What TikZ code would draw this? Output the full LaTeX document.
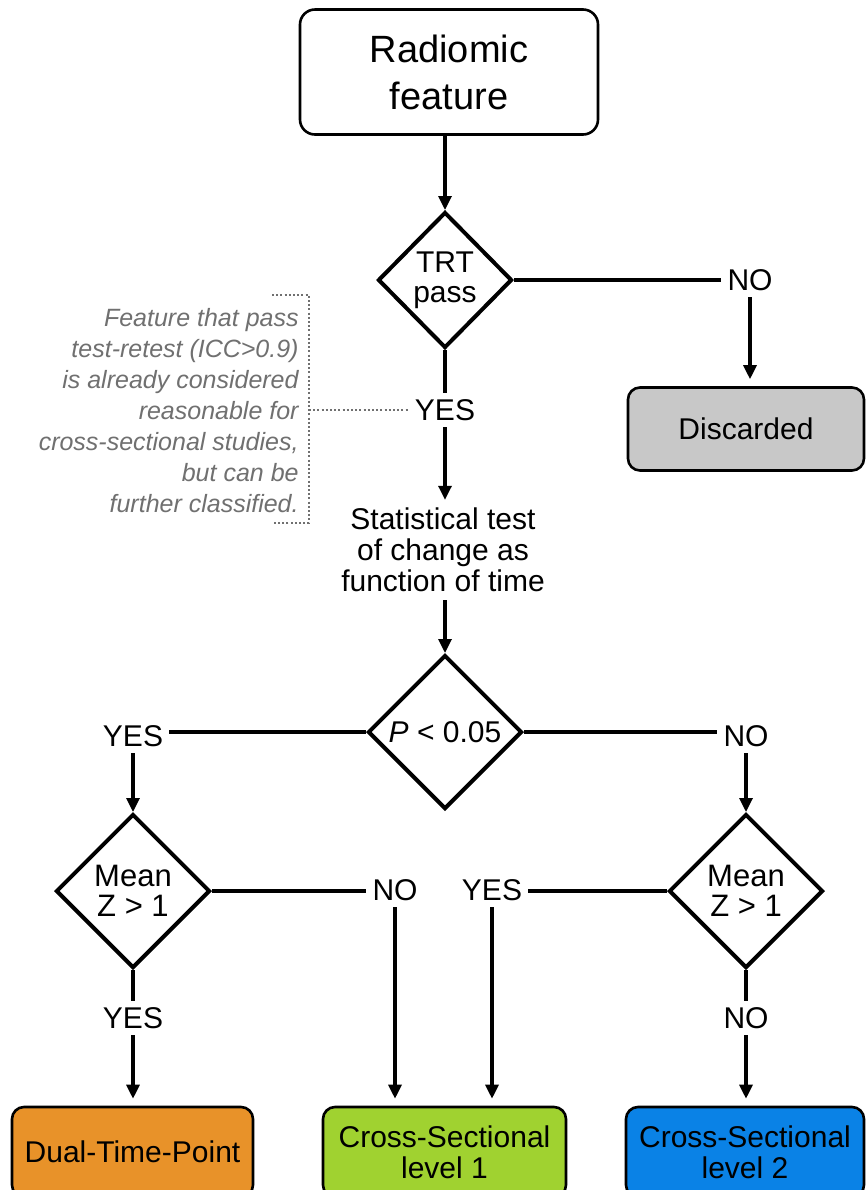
\documentclass[tikz,border=0pt]{standalone}
\usepackage{fontspec}
\setmainfont{Liberation Sans}
\usetikzlibrary{shapes.geometric,arrows.meta}
\definecolor{cgray}{RGB}{200,200,200}
\definecolor{corange}{RGB}{232,146,41}
\definecolor{cgreen}{RGB}{160,210,48}
\definecolor{cblue}{RGB}{10,130,230}
\definecolor{notegray}{RGB}{112,112,112}
\tikzset{
  conn/.style={line width=1.6pt},
  arr/.style={line width=1.6pt,-{Triangle[length=7pt,width=6.5pt]}},
  dia/.style={diamond,draw,line width=2pt,aspect=1,inner sep=0pt,align=center,font=\fontsize{15}{15}\selectfont},
  lbl/.style={inner sep=3pt,font=\fontsize{15}{15}\selectfont},
  rbox/.style={draw,rounded corners=6pt,line width=1.3pt,align=center,inner sep=0pt},
  endbox/.style={rbox,minimum height=45pt,font=\fontsize{15}{15.5}\selectfont},
  note/.style={align=right,inner sep=0pt,text=notegray,font=\fontsize{12.5}{15.5}\selectfont\itshape},
  dotl/.style={draw=notegray,line width=1.2pt,dash pattern=on 1pt off 1.1pt}
}
\begin{document}
\begin{tikzpicture}[x=0.5pt,y=-0.5pt]
\clip (0,0) rectangle (866,1190);
\fill[white] (0,0) rectangle (866,1190);
% nodes
\node[rbox,rounded corners=7.5pt,minimum width=149pt,minimum height=62.5pt,font=\fontsize{19}{23.5}\selectfont] (rad) at (449,72) {Radiomic\\feature};
\node[dia,minimum width=67pt,minimum height=68pt] (trt) at (445,280) {TRT\\pass};
\node[lbl] (no1) at (750,280) {NO};
\node[endbox,fill=cgray,minimum width=118pt,minimum height=41.5pt] (disc) at (746,429) {Discarded};
\node[lbl] (yes1) at (445,410) {YES};
\node[align=center,inner sep=4pt,font=\fontsize{15}{15.4}\selectfont] (stat) at (443,550) {Statistical test\\of change as\\function of time};
\node[dia,minimum width=77pt,minimum height=77pt] (p) at (445,732) {\textit{P} < 0.05};
\node[lbl] (yes2) at (133,736) {YES};
\node[lbl] (no2) at (746,736) {NO};
\node[dia,minimum width=77pt,minimum height=77pt,font=\fontsize{15.5}{15}\selectfont] (m1) at (133,891) {Mean\\Z > 1};
\node[dia,minimum width=77pt,minimum height=77pt,font=\fontsize{15.5}{15}\selectfont] (m2) at (746,891) {Mean\\Z > 1};
\node[lbl] (no3) at (395,890) {NO};
\node[lbl] (yes3) at (492,890) {YES};
\node[lbl] (yes4) at (133,1018) {YES};
\node[lbl] (no4) at (746,1018) {NO};
\node[endbox,fill=corange,minimum width=120.5pt] (dual) at (132.5,1152) {Dual-Time-Point};
\node[endbox,fill=cgreen,minimum width=121.5pt] (cs1) at (444.5,1152) {Cross-Sectional\\level 1};
\node[endbox,fill=cblue,minimum width=119pt] (cs2) at (745,1152) {Cross-Sectional\\level 2};
\node[note,anchor=east] (ann) at (299,411) {Feature that pass\\test-retest (ICC>0.9)\\is already considered\\reasonable for\\cross-sectional studies,\\but can be\\further classified.};
% bracket
\coordinate (bt0) at (272,295);
\coordinate (bt1) at (309,295);
\coordinate (bb1) at (309,523);
\coordinate (bb0) at (272,523);
\coordinate (bm) at (309,410);
\draw[dotl] (bt0) -- (bt1) -- (bb1) -- (bb0);
\draw[dotl] (bm) -- (yes1.west);
% connectors
\draw[arr] (trt.north |- rad.south) -- (trt.north);
\draw[conn] (trt.east) -- (no1.west);
\draw[arr,shorten >=3.5pt] (no1.south) -- (disc.north -| no1.south);
\draw[conn] (trt.south) -- (yes1.north);
\draw[arr] (yes1.south) -- (stat.north -| yes1.south);
\draw[arr] (p.north |- stat.south) -- (p.north);
\draw[conn] (p.west) -- (p.west -| yes2.east);
\draw[conn] (p.east) -- (p.east -| no2.west);
\draw[arr] (yes2.south) -- (m1.north);
\draw[arr] (no2.south) -- (m2.north);
\draw[conn] (m1.east) -- (m1.east -| no3.west);
\draw[conn] (m2.west) -- (m2.west -| yes3.east);
\draw[arr,shorten >=3.5pt] (no3.south) -- (no3.south |- cs1.north);
\draw[arr,shorten >=3.5pt] (yes3.south) -- (yes3.south |- cs1.north);
\draw[conn] (m1.south) -- (yes4.north);
\draw[conn] (m2.south) -- (no4.north);
\draw[arr,shorten >=3.5pt] (yes4.south) -- (yes4.south |- dual.north);
\draw[arr,shorten >=3.5pt] (no4.south) -- (no4.south |- cs2.north);
\end{tikzpicture}
\end{document}
